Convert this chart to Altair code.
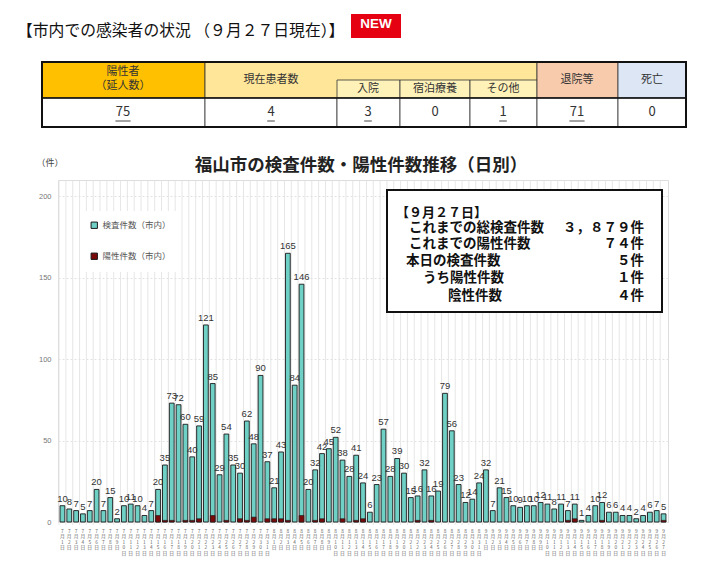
import altair as alt
import pandas as pd

# ---------------- data ----------------
TITLE = "【市内での感染者の状況 （９月２７日現在）】"
NEW_LABEL = "NEW"
TABLE_HEAD = ["陽性者\n（延人数）", "現在患者数", "入院", "宿泊療養", "その他", "退院等", "死亡"]
TABLE_VALUES = [75, 4, 3, 0, 1, 71, 0]
TABLE_LINKED = [True, True, True, False, True, True, False]

CHART_TITLE = "福山市の検査件数・陽性件数推移（日別）"
UNIT = "（件）"
SERIES = ["検査件数（市内）", "陽性件数（市内）"]
MONTH_DAYS = [(7, 31), (8, 31), (9, 27)]
DATES = [f"{m}月{d}日" for m, n in MONTH_DAYS for d in range(1, n + 1)]
TESTS = [10, 8, 7, 5, 7, 20, 7, 15, 2, 10,
         11, 10, 4, 7, 20, 35, 73, 72, 60, 40,
         59, 121, 85, 29, 54, 35, 30, 62, 48, 90,
         37, 21, 43, 165, 84, 146, 20, 32, 42, 45,
         52, 38, 28, 41, 24, 6, 23, 57, 28, 39,
         30, 15, 16, 32, 16, 19, 79, 56, 23, 12,
         14, 24, 32, 7, 21, 15, 10, 9, 10, 10,
         12, 11, 8, 11, 7, 11, 1, 4, 10, 12,
         6, 6, 4, 4, 2, 4, 6, 7, 5]
POSITIVES = [0, 0, 0, 0, 0, 0, 0, 0, 0, 0,
             0, 0, 0, 0, 4, 1, 1, 0, 1, 1,
             2, 0, 4, 0, 1, 0, 2, 1, 3, 0,
             2, 2, 2, 1, 0, 4, 0, 1, 2, 0,
             0, 2, 0, 1, 2, 0, 0, 0, 0, 0,
             0, 0, 1, 0, 1, 0, 0, 0, 0, 0,
             0, 0, 0, 0, 0, 0, 0, 0, 0, 0,
             0, 0, 0, 0, 1, 2, 0, 0, 0, 1,
             0, 0, 0, 0, 0, 0, 0, 0, 1]
Y_TICKS = [0, 50, 100, 150, 200]

BOX_HEAD = "【９月２７日】"
BOX_ITEMS = ["これまでの総検査件数", "これまでの陽性件数", "本日の検査件数", "うち陽性件数", "陰性件数"]
BOX_VALUES = ["３，８７９件", "７４件", "５件", "１件", "４件"]

# ---------------- layout (page pixels) ----------------
JP = "Noto Sans CJK JP"
LAT = "Liberation Sans"
PL, PR, PT, PB = 58, 668, 180, 522
W, H = PR - PL, PB - PT
TEAL, DARKRED = "#6fd0c5", "#7a0a0a"

XS = alt.Scale(domain=[PL, PR], nice=False, zero=False)
YS = alt.Scale(domain=[PT, PB], nice=False, zero=False, reverse=True)


def px_text(df, **mk):
    return alt.Chart(df).mark_text(**mk).encode(
        x=alt.X("x:Q", scale=XS, axis=None),
        y=alt.Y("y:Q", scale=YS, axis=None),
        text="t:N",
    )


def px_rect(df, **mk):
    return alt.Chart(df).mark_rect(**mk).encode(
        x=alt.X("x0:Q", scale=XS, axis=None), x2="x1:Q",
        y=alt.Y("y0:Q", scale=YS, axis=None), y2="y1:Q",
        fill=alt.Fill("fill:N", scale=None),
    )


def px_frame(df, **mk):
    return alt.Chart(df).mark_rect(**mk).encode(
        x=alt.X("x0:Q", scale=XS, axis=None), x2="x1:Q",
        y=alt.Y("y0:Q", scale=YS, axis=None), y2="y1:Q",
    )


def px_rule(df, **mk):
    return alt.Chart(df).mark_rule(**mk).encode(
        x=alt.X("x0:Q", scale=XS, axis=None), x2="x1:Q",
        y=alt.Y("y0:Q", scale=YS, axis=None), y2="y1:Q",
    )


# ---- page title + NEW badge ----
title_l = px_text(pd.DataFrame({"x": [17], "y": [31], "t": [TITLE]}),
                  align="left", baseline="middle", font=JP, fontSize=15.8, color="#111")
new_box = px_rect(pd.DataFrame({"x0": [351], "x1": [401], "y0": [14], "y1": [38], "fill": ["#e50012"]}))
new_txt = px_text(pd.DataFrame({"x": [376], "y": [24], "t": [NEW_LABEL]}),
                  align="center", baseline="middle", font=LAT, fontSize=13.5, fontWeight="bold", color="white")

# ---- table ----
COLS = [42, 205, 337, 400, 470, 537, 618, 686]
TY0, TYS, TYH, TY1 = 62, 80, 98, 127
head_cells = pd.DataFrame({
    "x0": [42, 205, 337, 400, 470, 537, 618],
    "x1": [205, 537, 400, 470, 537, 618, 686],
    "y0": [TY0, TY0, TYS, TYS, TYS, TY0, TY0],
    "y1": [TYH] * 7,
    "fill": ["#ffc000", "#ffe699", "#fff2b8", "#fff2b8", "#fff2b8", "#f8cbad", "#dde6f5"],
})
val_cells = pd.DataFrame({"x0": COLS[:-1], "x1": COLS[1:], "y0": [TYH] * 7, "y1": [TY1] * 7,
                          "fill": ["white"] * 7})
cells = px_rect(pd.concat([head_cells, val_cells]), stroke="#333", strokeWidth=0.8)
outer = px_frame(pd.DataFrame({"x0": [42], "x1": [686], "y0": [TY0], "y1": [TY1]}),
                 fill=None, stroke="#111", strokeWidth=2)
mid_line = px_rule(pd.DataFrame({"x0": [42], "x1": [686], "y0": [TYH], "y1": [TYH]}),
                   color="#111", strokeWidth=1.6)

head_pos_x = [123, 271, 368, 435, 503, 577, 652]
head_pos_y = [72, 80, 89, 89, 89, 80, 80]
head_txt = px_text(pd.DataFrame({"x": head_pos_x, "y": head_pos_y, "t": TABLE_HEAD}),
                   align="center", baseline="middle", font=JP, fontSize=11, color="#333",
                   lineBreak="\n", lineHeight=14)
val_x = [123, 271, 368, 435, 503, 577, 652]
val_txt = px_text(pd.DataFrame({"x": val_x, "y": [112] * 7, "t": [str(v) for v in TABLE_VALUES]}),
                  align="center", baseline="middle", font=JP, fontSize=13, color="#333")
ul = [(x, len(str(v))) for x, v, lk in zip(val_x, TABLE_VALUES, TABLE_LINKED) if lk]
underline = px_rule(pd.DataFrame({"x0": [x - 3.8 * n for x, n in ul], "x1": [x + 3.8 * n for x, n in ul],
                                  "y0": [121] * len(ul), "y1": [121] * len(ul)}),
                    color="#333", strokeWidth=0.9)

# ---- chart title, unit ----
ctitle = px_text(pd.DataFrame({"x": [361], "y": [166], "t": [CHART_TITLE]}),
                 align="center", baseline="middle", font=JP, fontSize=17.5, fontWeight="bold",
                 color="#222")
unit = px_text(pd.DataFrame({"x": [50], "y": [163], "t": [UNIT]}),
               align="center", baseline="middle", font=JP, fontSize=9, color="#444")

back = alt.layer(title_l, new_box, new_txt, cells, outer, mid_line, head_txt, val_txt,
                 underline, ctitle, unit)

# ---- bars ----
df = pd.DataFrame({"date": DATES, "tests": TESTS, "pos": POSITIVES})
df["s1"] = SERIES[0]
df["s2"] = SERIES[1]
df["stack"] = ["\n".join(list(d)) for d in DATES]
XB = alt.Scale(domain=DATES, paddingInner=0.3, paddingOuter=0.3)
YB = alt.Scale(domain=[0, 210], nice=False)
col = alt.Scale(domain=SERIES, range=[TEAL, DARKRED])

vgrid = alt.Chart(df).mark_rule(color="#e0e0e0", strokeWidth=0.8, xOffset=-1).encode(
    x=alt.X("date:O", scale=XB, sort=DATES, bandPosition=0, axis=None),
    y=alt.value(0), y2=alt.value(H + 3),
)
bars = alt.Chart(df).mark_bar(stroke="#1a1a1a", strokeWidth=0.9).encode(
    x=alt.X("date:O", scale=XB, sort=DATES,
            axis=alt.Axis(title=None, labels=False, ticks=False, grid=False,
                          domainColor="#aaa", domainWidth=1)),
    y=alt.Y("tests:Q", scale=YB,
            axis=alt.Axis(title=None, values=Y_TICKS, grid=True, gridColor="#e2e2e2", gridDash=[2, 2],
                          labelFont=LAT, labelFontSize=7.5, labelColor="#777", ticks=False,
                          domain=False, labelPadding=7)),
    color=alt.Color("s1:N", scale=col,
                    legend=alt.Legend(title=None, orient="none", legendX=22, legendY=31,
                                      fillColor="white", padding=10, symbolType="square",
                                      symbolSize=40, symbolStrokeColor="#111", symbolStrokeWidth=1,
                                      labelFont=JP, labelFontSize=8.5, labelColor="#555",
                                      rowPadding=20, labelLimit=200)),
)
posbars = alt.Chart(df).mark_bar(stroke="#1a1a1a", strokeWidth=0.6).encode(
    x=alt.X("date:O", scale=XB, sort=DATES),
    y=alt.Y("pos:Q", scale=YB),
    color=alt.Color("s2:N", scale=col),
).transform_filter("datum.pos > 0")
labels = alt.Chart(df).mark_text(baseline="bottom", dy=-2, font=LAT, fontSize=9.5, color="#333").encode(
    x=alt.X("date:O", scale=XB, sort=DATES),
    y=alt.Y("tests:Q", scale=YB),
    text="tests:Q",
)
datelabels = alt.Chart(df).mark_text(baseline="top", lineBreak="\n", lineHeight=5.4, font=JP,
                                     fontSize=4.8, color="#666").encode(
    x=alt.X("date:O", scale=XB, sort=DATES),
    y=alt.value(H + 7),
    text="stack:N",
)
data = alt.layer(vgrid, bars, posbars, labels, datelabels)

# ---- info box ----
ibox = px_frame(pd.DataFrame({"x0": [387], "x1": [662], "y0": [190], "y1": [312]}),
                fill="white", stroke="#111", strokeWidth=2)
ihead = px_text(pd.DataFrame({"x": [396], "y": [213], "t": [BOX_HEAD]}),
                align="left", baseline="middle", font=JP, fontSize=13, fontWeight="bold", color="#111")
item_x = [409, 409, 406, 423, 448]
item_y = [228, 244, 261, 278, 296]
iitems = px_text(pd.DataFrame({"x": item_x, "y": item_y, "t": BOX_ITEMS}),
                 align="left", baseline="middle", font=JP, fontSize=13.5, fontWeight="bold", color="#111")
ivals = px_text(pd.DataFrame({"x": [644] * 5, "y": item_y, "t": BOX_VALUES}),
                align="right", baseline="middle", font=JP, fontSize=13.5, fontWeight="bold", color="#111")
front = alt.layer(ibox, ihead, iitems, ivals)

chart = alt.layer(back, data, front).resolve_scale(x="independent", y="independent").properties(
    width=W, height=H,
    padding={"left": PL - 8, "top": PT - 8, "right": 704 - (PL - 8) - W, "bottom": 556 - (PT - 8) - H},
    autosize=alt.AutoSizeParams(type="none"),
).configure_view(stroke=None).configure(background="white")

chart.save("out.html", embed_options={"renderer": "svg", "actions": False})
